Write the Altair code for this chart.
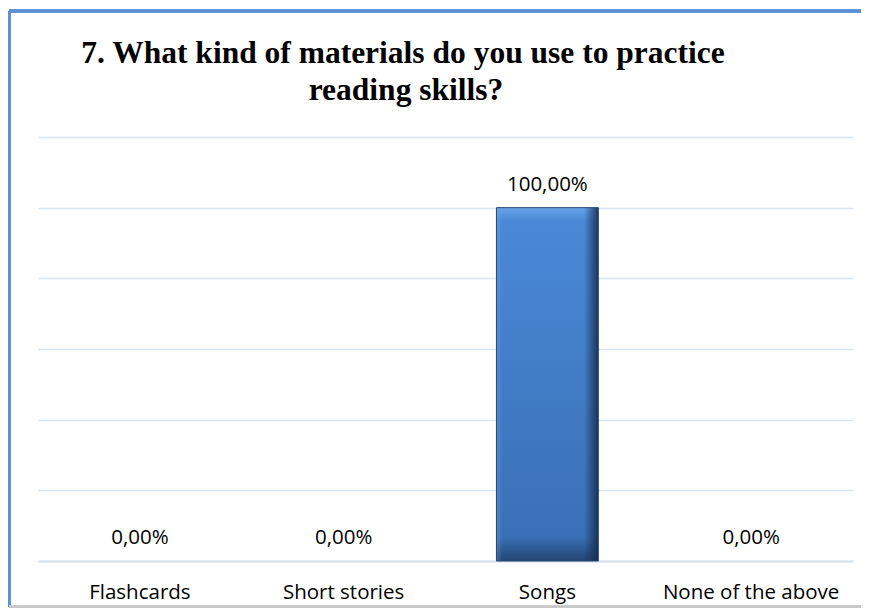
import altair as alt
import pandas as pd

categories = ["Flashcards", "Short stories", "Songs", "None of the above"]
values = [0.0, 0.0, 100.0, 0.0]
labels = ["0,00%", "0,00%", "100,00%", "0,00%"]
title_lines = ["7. What kind of materials do you use to practice", "reading skills?"]

df = pd.DataFrame({"cat": categories, "val": values, "lab": labels})

W, H = 815, 424

x = alt.X("cat:N", sort=categories, title=None,
          scale=alt.Scale(paddingInner=0.5, paddingOuter=0.25),
          axis=alt.Axis(labelAngle=0, ticks=False, domain=True, domainColor="#d5e0ef",
                        domainWidth=2, labelFont="Open Sans", labelFontSize=20.5,
                        labelColor="#000000", labelBaseline="alphabetic", labelPadding=37,
                        grid=False))
y = alt.Y("val:Q", title=None,
          scale=alt.Scale(domain=[0, 120], nice=False, zero=True),
          axis=alt.Axis(values=[0, 20, 40, 60, 80, 100, 120], labels=False, ticks=False,
                        domain=False, grid=True, gridColor="#dbe5f2", gridWidth=1.5))

grad = alt.Gradient(
    gradient="linear", x1=0, y1=0, x2=0, y2=1,
    stops=[alt.GradientStop(color="#66a3e8", offset=0),
           alt.GradientStop(color="#4a88d6", offset=0.04),
           alt.GradientStop(color="#3a70b6", offset=0.93),
           alt.GradientStop(color="#244673", offset=1)])

side = alt.Gradient(
    gradient="linear", x1=0, y1=0, x2=1, y2=0,
    stops=[alt.GradientStop(color="rgba(120,170,230,0.35)", offset=0),
           alt.GradientStop(color="rgba(120,170,230,0)", offset=0.06),
           alt.GradientStop(color="rgba(20,40,70,0)", offset=0.86),
           alt.GradientStop(color="rgba(20,40,70,0.85)", offset=1)])

bars = alt.Chart(df).mark_bar(color=grad).encode(x=x, y=y)

shade = alt.Chart(df).transform_filter("datum.val > 0").mark_bar(
    color=side).encode(x=alt.X("cat:N", sort=categories), y="val:Q")

edge = alt.Chart(df).transform_filter("datum.val > 0").mark_bar(
    fill=None, stroke="#27466e", strokeWidth=1).encode(x=alt.X("cat:N", sort=categories), y="val:Q")

text = alt.Chart(df).mark_text(font="Open Sans", fontSize=20.5, color="#000000",
                               baseline="alphabetic", dy=-17).encode(
    x=alt.X("cat:N", sort=categories), y="val:Q", text="lab:N")

tdf = pd.DataFrame({"t": title_lines})
title1 = alt.Chart(tdf).transform_filter(alt.datum.t == title_lines[0]).mark_text(
    font="Liberation Serif", fontSize=31.5, fontWeight="bold", color="#000000",
    align="center", baseline="alphabetic").encode(
    x=alt.value(365), y=alt.value(-74), text="t:N")
title2 = alt.Chart(tdf).transform_filter(alt.datum.t == title_lines[1]).mark_text(
    font="Liberation Serif", fontSize=31.5, fontWeight="bold", color="#000000",
    align="center", baseline="alphabetic").encode(
    x=alt.value(368), y=alt.value(-37), text="t:N")

frame_left = alt.Chart(df).mark_rule(color="#5b8fd6", strokeWidth=3).encode(
    x=alt.value(-29), y=alt.value(-126), y2=alt.value(470))
frame_top = alt.Chart(df).mark_rule(color="#5b8fd6", strokeWidth=3).encode(
    x=alt.value(-29), x2=alt.value(835), y=alt.value(-126))
frame_bottom = alt.Chart(df).mark_rule(color="#c8c8c8", strokeWidth=3).encode(
    x=alt.value(-29), x2=alt.value(835), y=alt.value(470))

chart = alt.layer(bars, shade, edge, text, title1, title2,
                  frame_left, frame_top, frame_bottom).properties(
    width=W, height=H,
    padding={"left": 30, "top": 129, "right": 8, "bottom": 47},
    autosize=alt.AutoSizeParams(type="none"),
    background="#ffffff",
).configure_view(stroke=None, strokeWidth=0)

chart.save("out.html", embed_options={"renderer": "svg", "actions": False})
